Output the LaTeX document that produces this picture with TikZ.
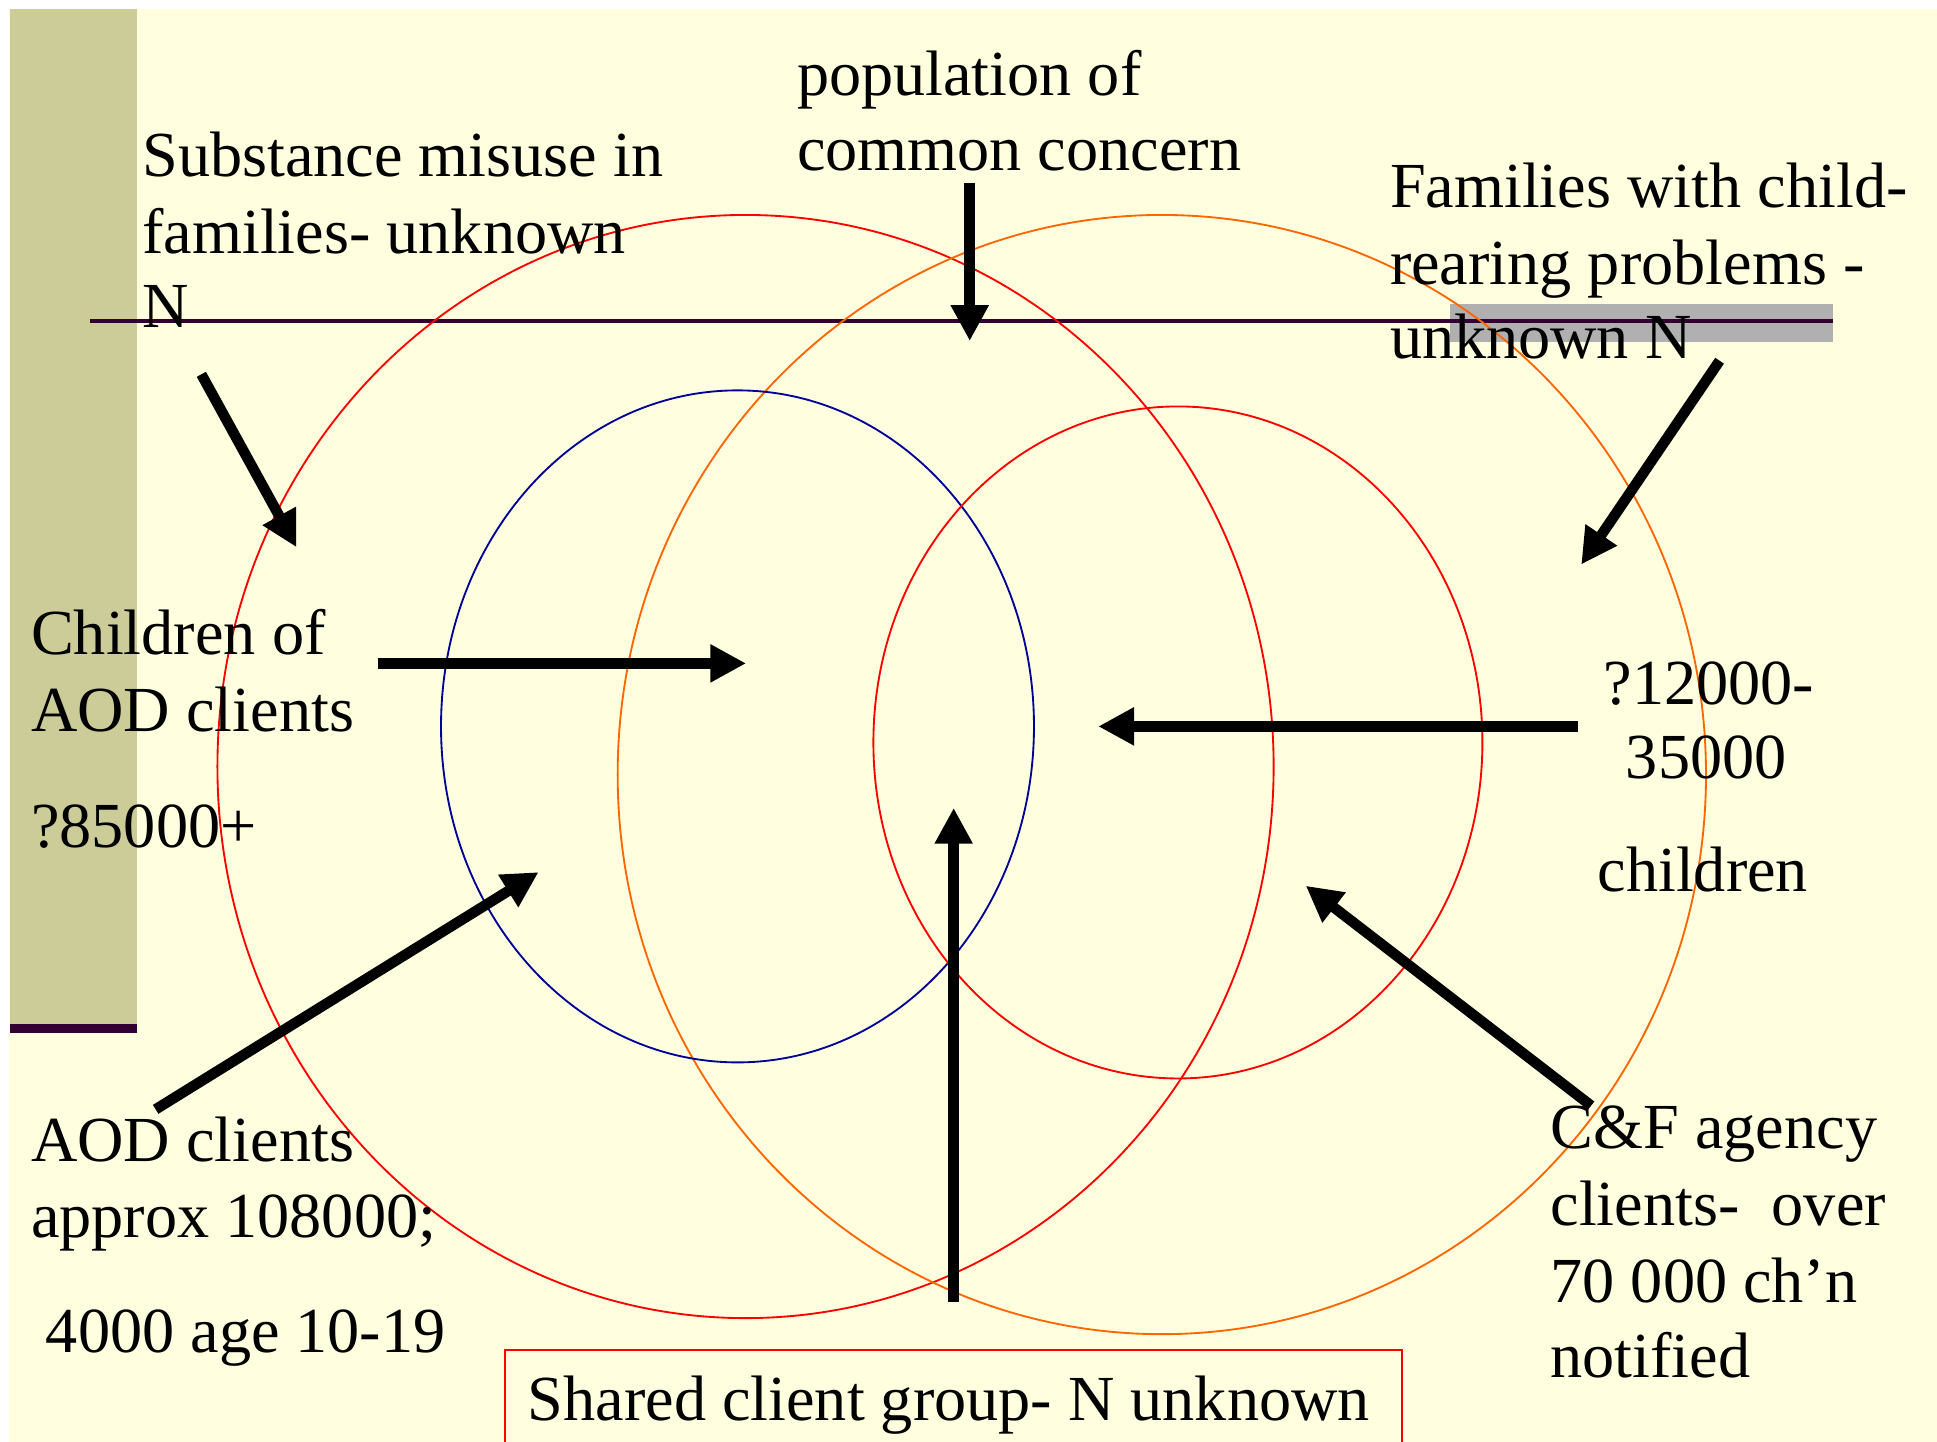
\documentclass[tikz,border=0pt]{standalone}
\usepackage{fontspec}
\setmainfont{Liberation Serif}
\usetikzlibrary{arrows.meta}
\definecolor{cream}{HTML}{FFFFDF}
\definecolor{olivebar}{HTML}{CCCC99}
\definecolor{darkp}{HTML}{330033}
\definecolor{grayband}{HTML}{B0B0B0}
\definecolor{orangec}{HTML}{FF6600}
\definecolor{bluec}{HTML}{000099}
\begin{document}
\begin{tikzpicture}[x=1pt,y=-1pt,
  lbl/.style={anchor=base west, inner sep=0pt, font=\fontsize{52}{62}\selectfont},
  bigarrow/.style={line width=8.5pt, -{Triangle[length=29pt,width=29pt]}},
  ring/.style={line width=1.5pt}]
\useasboundingbox (0,0) rectangle (1568,1167);
\fill[white] (0,0) rectangle (1568,1167);
\fill[cream] (7,7) rectangle (1568,1167);
\fill[olivebar] (8,7) rectangle (111,829);
\fill[darkp] (8,829) rectangle (111,836);
\fill[grayband] (1174,246) rectangle (1484,277);
\draw[darkp, line width=3pt] (73,260) -- (1484,260);
% circles
\draw[ring, red] (603.5,620.5) ellipse [x radius=427.5, y radius=446.5];
\draw[ring, orangec] (940.5,627) ellipse [x radius=440.5, y radius=453];
\draw[ring, bluec] (597,588) ellipse [x radius=240, y radius=272];
\draw[ring, red] (953.5,601) ellipse [x radius=246.5, y radius=272];
% red box
\draw[red, line width=2pt] (409,1168) -- (409,1093) -- (1135,1093) -- (1135,1168);
% texts
\node[lbl] (p1) at (645,77) {population of};
\node[lbl] (p2) at (645,138) {common concern};
\node[lbl] (s1) at (115,143) {Substance misuse in};
\node[lbl] (s2) at (115,205) {families- unknown};
\node[lbl] (s3) at (115,265) {N};
\node[lbl] (f1) at (1125,168) {Families with child-};
\node[lbl] (f2) at (1125,230) {rearing problems -};
\node[lbl] (f3) at (1125,290) {unknown N};
\node[lbl] (c1) at (25,530) {Children of};
\node[lbl] (c2) at (25,592) {AOD clients};
\node[lbl] (c3) at (25,686) {?85000+};
\node[lbl] (n1) at (1298,570) {?12000-};
\node[lbl] (n2) at (1316,630) {35000};
\node[lbl] (n3) at (1293,722) {children};
\node[lbl] (a1) at (25,940) {AOD clients};
\node[lbl] (a2) at (25,1002) {approx 108000;};
\node[lbl] (a3) at (37,1095) {4000 age 10-19};
\node[lbl] (k1) at (1255,930) {C\&F agency};
\node[lbl] (k2) at (1255,992) {clients-~ over};
\node[lbl] (k3) at (1255,1054) {70 000 ch’n};
\node[lbl] (k4) at (1255,1115) {notified};
\node[lbl] (sh) at (427,1150) {Shared client group- N unknown};
% arrow ends
\coordinate (e1s) at (163,303); \coordinate (e1e) at (240,443);
\coordinate (e2s) at (785,148); \coordinate (e2e) at (785,276);
\coordinate (e3s) at (1392,292); \coordinate (e3e) at (1280,457);
\coordinate (e4s) at (306,537); \coordinate (e4e) at (604,537);
\coordinate (e5s) at (1277,588); \coordinate (e5e) at (889,588);
\coordinate (e6s) at (126,898); \coordinate (e6e) at (436,706);
\coordinate (e7s) at (772,1054); \coordinate (e7e) at (772,654);
\coordinate (e8s) at (1288,895); \coordinate (e8e) at (1057,717);
\draw[bigarrow] (e1s) -- (e1e);
\draw[bigarrow] (e2s) -- (e2e);
\draw[bigarrow] (e3s) -- (e3e);
\draw[bigarrow] (e4s) -- (e4e);
\draw[bigarrow] (e5s) -- (e5e);
\draw[bigarrow] (e6s) -- (e6e);
\draw[bigarrow] (e7s) -- (e7e);
\draw[bigarrow] (e8s) -- (e8e);
\end{tikzpicture}
\end{document}
